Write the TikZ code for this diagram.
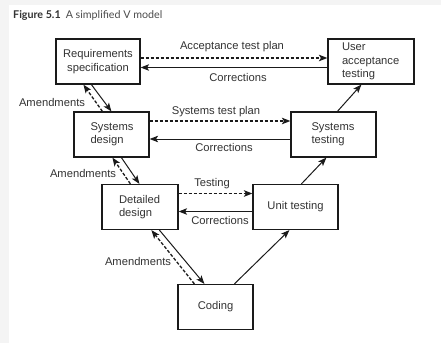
\documentclass[tikz,border=0pt]{standalone}
\usepackage{fontspec}
\setmainfont{Liberation Sans}
\newfontfamily\titlefont{Lato}
\usetikzlibrary{arrows.meta}
\definecolor{txt}{HTML}{333333}
\definecolor{ln}{HTML}{1A1A1A}
\definecolor{bg}{HTML}{F4F4F4}
\tikzset{
  box/.style={draw=ln, line width=1.2pt, minimum height=45pt, inner ysep=0pt,
    font=\fontsize{11.2}{13.3}\selectfont, text=txt},
  lbl/.style={font=\fontsize{11.2}{13.3}\selectfont, text=txt, inner sep=0pt},
  arr/.style={draw=ln, line width=1pt, -{Stealth[length=8.5pt,width=6.5pt,inset=2pt]}},
  darr/.style={arr, line width=1.3pt, dash pattern=on 3.2pt off 1.8pt},
}
\begin{document}
\begin{tikzpicture}[x=1pt,y=-1pt]
\useasboundingbox (0,0) rectangle (441,343);
\fill[bg] (0,0) rectangle (441,343);
\fill[white] (8.5,5) rectangle (441,343);
\node[anchor=west, inner sep=0pt, text=txt, font=\titlefont\fontsize{10.7}{12}\selectfont] (title) at (13,15)
  {\textbf{Figure 5.1}\hspace{5pt}{\color{black!70}A simplified V model}};

\node[box, text width=74pt, inner xsep=5pt, align=center] (req) at (98,61.5) {Requirements\\specification};
\node[box, text width=58pt, inner xsep=14pt, align=left] (uat) at (371,61.5) {User\\acceptance\\testing};
\node[box, text width=42pt, inner xsep=16.5pt, align=left] (sd) at (111.5,134.5) {Systems\\design};
\node[box, text width=44pt, inner xsep=20.5pt, align=left] (st) at (333.5,134.5) {Systems\\testing};
\node[box, text width=42pt, inner xsep=17pt, align=left] (dd) at (140,207) {Detailed\\design};
\node[box, minimum width=85pt] (ut) at (295.5,207) {Unit testing};
\node[box, minimum width=75pt] (cod) at (215.5,307) {Coding};

% horizontal connectors
\draw[darr] ([yshift=3.5pt]req.east) -- ([yshift=3.5pt]uat.west);
\draw[arr] ([yshift=-6pt]uat.west) -- ([yshift=-6pt]req.east);
\draw[darr] ([yshift=13.5pt]sd.east) -- ([yshift=13.5pt]st.west);
\draw[arr] ([yshift=-4.5pt]st.west) -- ([yshift=-4.5pt]sd.east);
\draw[darr] ([yshift=13.5pt]dd.east) -- ([yshift=13.5pt]ut.west);
\draw[arr] ([yshift=-4.5pt]ut.west) -- ([yshift=-4.5pt]dd.east);

% diagonal connectors
\draw[arr] ([xshift=36pt]req.south west) -- ([xshift=38pt]sd.north west);
\draw[darr] ([xshift=29pt]sd.north west) -- ([xshift=28pt]req.south west);
\draw[arr] ([xshift=48pt]sd.south west) -- ([xshift=38pt]dd.north west);
\draw[darr] ([xshift=29pt]dd.north west) -- ([xshift=39pt]sd.south west);
\draw[arr] ([xshift=58pt]dd.south west) -- ([xshift=27pt]cod.north west);
\draw[darr] ([xshift=17pt]cod.north west) -- ([xshift=50pt]dd.south west);
\draw[arr] ([xshift=57pt]cod.north west) -- ([xshift=37pt]ut.south west);
\draw[arr] ([xshift=49pt]ut.north west) -- ([xshift=36pt]st.south west);
\draw[arr] ([xshift=47pt]st.north west) -- ([xshift=34pt]uat.south west);

% labels
\node[lbl] (l1) at (232,47) {Acceptance test plan};
\node[lbl] (l2) at (238,77) {Corrections};
\node[lbl] (l3) at (216,112) {Systems test plan};
\node[lbl] (l4) at (224,147) {Corrections};
\node[lbl] (l5) at (212,184) {Testing};
\node[lbl] (l6) at (220,220) {Corrections};
\node[lbl] (a1) at (52,102) {Amendments};
\node[lbl] (a2) at (83,173) {Amendments};
\node[lbl] (a3) at (138,261) {Amendments};
\end{tikzpicture}
\end{document}
